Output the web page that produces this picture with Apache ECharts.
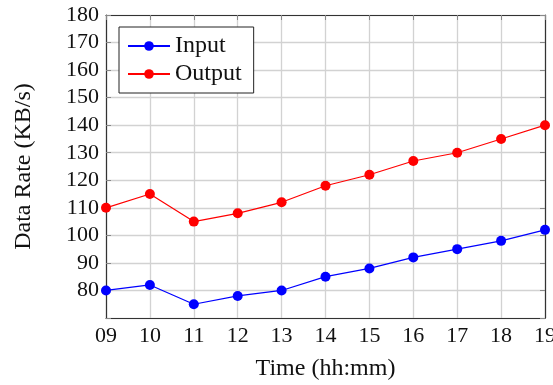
<!DOCTYPE html>
<html>
<head>
<meta charset="utf-8">
<script src="https://cdn.jsdelivr.net/npm/echarts@6/dist/echarts.min.js"></script>
<style>
  html, body { margin: 0; padding: 0; background: #fff; }
  #chart { width: 553px; height: 385px; }
</style>
</head>
<body>
<div id="chart"></div>
<script>
const hours = ['09', '10', '11', '12', '13', '14', '15', '16', '17', '18', '19']
const inputRate = [80, 82, 75, 78, 80, 85, 88, 92, 95, 98, 102]
const outputRate = [110, 115, 105, 108, 112, 118, 122, 127, 130, 135, 140]

const font = 'Liberation Serif'
const frame = { show: true, lineStyle: { color: '#333', width: 1.2 } }
const grid = { show: true, lineStyle: { color: '#d2d2d2', width: 1.3 } }
const ticks = { show: true, inside: true, length: 5, lineStyle: { color: '#888' } }

const chart = echarts.init(document.getElementById('chart'))
chart.setOption({
  animation: false,
  textStyle: { fontFamily: font },
  grid: { left: 106, right: 8, top: 15, bottom: 67, outerBoundsMode: 'none', containLabel: false },
  legend: {
    orient: 'vertical',
    left: 119,
    top: 27,
    padding: [7, 12, 7, 8],
    itemGap: 4,
    itemWidth: 42,
    itemHeight: 12,
    borderColor: '#222',
    borderWidth: 1,
    backgroundColor: '#fff',
    textStyle: { fontFamily: font, fontSize: 24, color: '#111' },
    data: ['Input', 'Output']
  },
  xAxis: [
    {
      type: 'category',
      data: hours,
      boundaryGap: false,
      name: 'Time (hh:mm)',
      nameLocation: 'middle',
      nameGap: 39,
      nameTextStyle: { fontFamily: font, fontSize: 24, color: '#111' },
      axisLine: frame,
      axisTick: { show: false },
      axisLabel: { fontFamily: font, fontSize: 22, color: '#111', margin: 7 },
      splitLine: grid
    },
    {
      type: 'category',
      data: hours,
      boundaryGap: false,
      position: 'top',
      axisLine: frame,
      axisTick: ticks,
      axisLabel: { show: false },
      splitLine: { show: false }
    }
  ],
  yAxis: [
    {
      type: 'value',
      min: 70,
      max: 180,
      interval: 10,
      name: 'Data Rate (KB/s)',
      nameLocation: 'middle',
      nameGap: 70,
      nameTextStyle: { fontFamily: font, fontSize: 24, color: '#111' },
      axisLine: frame,
      axisTick: ticks,
      axisLabel: {
        fontFamily: font, fontSize: 22, color: '#111', margin: 7,
        formatter: v => (v === 70 ? '' : v)
      },
      splitLine: grid
    },
    {
      type: 'value',
      min: 70,
      max: 180,
      interval: 10,
      position: 'right',
      axisLine: frame,
      axisTick: ticks,
      axisLabel: { show: false },
      splitLine: { show: false }
    }
  ],
  series: [
    {
      name: 'Input',
      type: 'line',
      data: inputRate,
      symbol: 'circle',
      symbolSize: 10,
      color: '#0000ff',
      lineStyle: { width: 1.2, color: '#0000ff' },
      itemStyle: { color: '#0000ff' }
    },
    {
      name: 'Output',
      type: 'line',
      data: outputRate,
      symbol: 'circle',
      symbolSize: 10,
      color: '#ff0000',
      lineStyle: { width: 1.2, color: '#ff0000' },
      itemStyle: { color: '#ff0000' }
    }
  ]
})
</script>
</body>
</html>
